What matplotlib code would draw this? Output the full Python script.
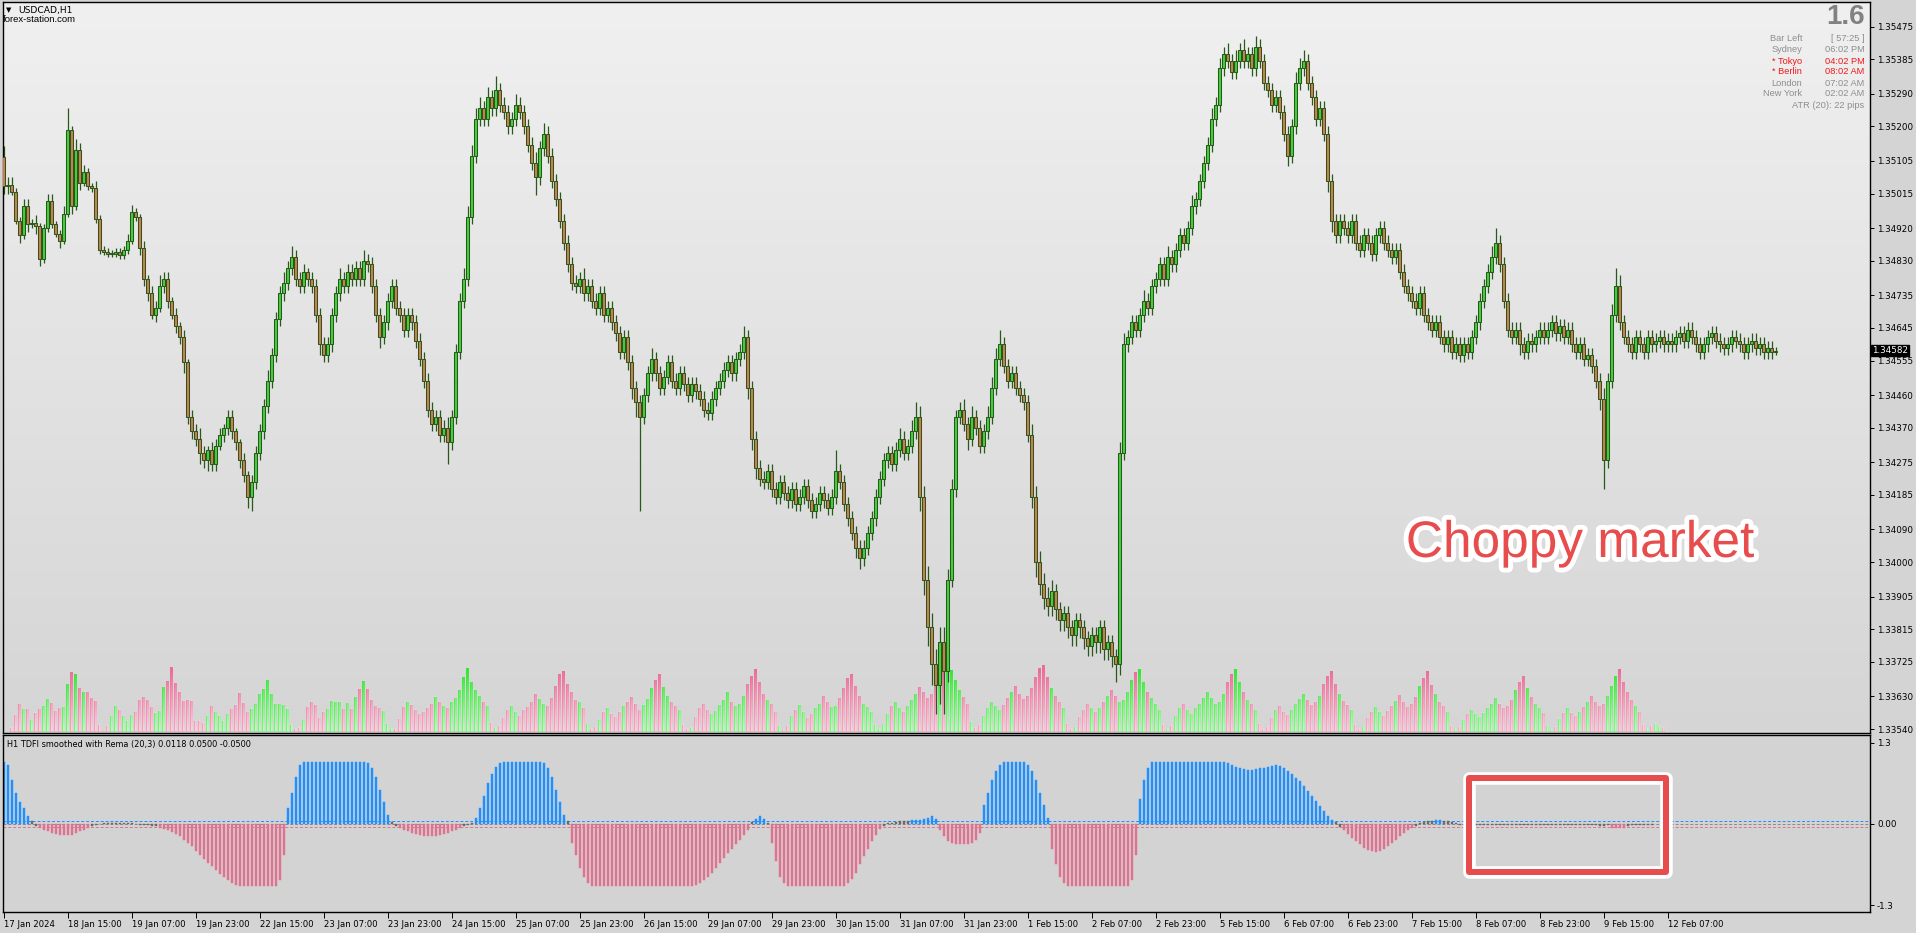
import numpy as np
import matplotlib
matplotlib.use("Agg")
import matplotlib.pyplot as plt
from matplotlib.path import Path
from matplotlib.patches import Rectangle
import matplotlib.patheffects as pe

# ---------------- data ----------------
BASE = 1.3300            # price = BASE + pips / 10000
first_open = 211.7
closes = [
    203.5, 204, 202, 194, 190, 198, 193, 193.5, 192.5, 183.5, 192, 199.5, 193, 190.5, 188.5, 196,
    219, 198, 213.5, 204.5, 207.5, 203.5, 203, 194.5, 186, 185.5, 185, 185, 185.5, 184.5, 186, 188.5,
    196.5, 195, 186.5, 178, 174, 168, 170, 176, 178, 172, 168, 165, 162, 155, 140, 136,
    134, 130, 128, 131, 127, 132, 135, 137, 140, 136, 133, 128, 124, 118, 122, 130,
    136, 143, 150, 157, 167, 174, 177, 181, 184, 178, 176, 180, 178, 176, 168, 160,
    157, 160, 168, 174, 178, 176, 180, 178, 181, 178, 183, 182, 176, 168, 162, 166,
    172, 176, 170, 168, 164, 168, 166, 161, 156, 150, 142, 138, 140, 135, 137, 133,
    140, 158, 172, 178, 195, 212, 222, 225, 222, 228, 225, 230, 226, 224, 220, 222,
    226, 224, 220, 215, 210, 206, 214, 218, 212, 205, 200, 194, 188, 182, 177, 176,
    178, 174, 176, 172, 170, 174, 168, 170, 166, 163, 158, 162, 155, 148, 144, 140,
    146, 152, 156, 152, 148, 151, 155, 150, 148, 152, 149, 146, 149, 147, 145, 142,
    141, 145, 148, 150, 153, 155, 152, 156, 158, 162, 148, 134, 126, 123, 122, 125,
    120, 118, 122, 119, 117, 120, 116, 118, 121, 117, 114, 116, 119, 117, 115, 118,
    125, 122, 116, 112, 108, 104, 101, 104, 108, 112, 118, 123, 128, 130, 127, 131,
    134, 130, 132, 136, 140, 118, 95, 82, 72, 66, 78, 70, 95, 120, 140, 142,
    138, 134, 140, 137, 132, 136, 140, 148, 156, 160, 154, 150, 152, 148, 146, 144,
    135, 118, 100, 94, 90, 88, 92, 87, 84, 86, 82, 80, 84, 82, 79, 77,
    80, 78, 82, 76, 78, 74, 72, 130, 160, 162, 166, 164, 168, 172, 170, 176,
    178, 182, 178, 184, 182, 186, 190, 188, 192, 198, 200, 205, 210, 215, 222, 226,
    236, 240, 238, 235, 238, 241, 238, 240, 236, 242, 238, 232, 230, 226, 228, 224,
    218, 212, 220, 232, 236, 238, 232, 228, 222, 225, 218, 205, 194, 190, 194, 192,
    190, 194, 188, 186, 190, 188, 185, 190, 192, 188, 186, 184, 186, 180, 176, 174,
    172, 170, 174, 168, 166, 164, 166, 162, 160, 162, 158, 160, 157, 160, 158, 162,
    166, 172, 176, 180, 184, 188, 182, 172, 164, 162, 164, 160, 158, 161, 160, 162,
    164, 162, 164, 166, 163, 165, 162, 164, 160, 158, 160, 156, 157, 154, 150, 145,
    128, 150, 168, 176, 166, 162, 160, 158, 162, 160, 158, 162, 160, 161, 162, 160,
    161, 160, 162, 163, 161, 164, 162, 160, 158, 160, 162, 163, 161, 160, 159, 160,
    162, 161, 160, 158, 160, 161, 159, 160, 158, 159, 158, 158.2,
]
upper_wick = [
    3, 2, 2, 1, 1, 2, 2, 1, 2, 1, 1, 2, 2, 1, 1, 2,
    6, 1, 3, 2, 2, 1, 1, 2, 1, 1, 1, 1, 1, 1, 1, 2,
    2, 1, 1, 2, 1, 2, 2, 3, 2, 2, 1, 2, 1, 2, 1, 2,
    2, 3, 2, 1, 2, 2, 2, 1, 2, 2, 1, 1, 2, 1, 2, 2,
    2, 2, 3, 2, 2, 2, 3, 2, 3, 2, 2, 2, 1, 2, 2, 2,
    2, 2, 2, 2, 3, 2, 2, 2, 2, 2, 3, 2, 2, 2, 2, 2,
    2, 2, 2, 2, 2, 2, 2, 2, 2, 2, 2, 2, 2, 2, 2, 3,
    2, 2, 2, 3, 3, 3, 3, 3, 2, 3, 2, 4, 2, 2, 2, 2,
    3, 2, 2, 2, 2, 3, 2, 3, 2, 2, 2, 2, 2, 2, 2, 2,
    2, 3, 2, 2, 2, 2, 2, 2, 2, 2, 2, 2, 2, 2, 2, 2,
    2, 2, 3, 2, 2, 2, 2, 2, 2, 2, 2, 2, 2, 2, 2, 2,
    2, 2, 2, 2, 2, 2, 2, 2, 2, 3, 2, 2, 2, 2, 2, 2,
    2, 2, 2, 2, 2, 2, 2, 2, 2, 2, 2, 2, 2, 2, 2, 2,
    6, 2, 2, 2, 2, 2, 2, 2, 2, 2, 2, 2, 2, 2, 2, 2,
    3, 2, 2, 3, 4, 3, 3, 4, 4, 4, 4, 4, 3, 3, 2, 2,
    3, 2, 3, 2, 2, 2, 3, 3, 3, 4, 2, 2, 2, 2, 2, 2,
    2, 3, 3, 3, 3, 3, 3, 2, 2, 2, 2, 2, 2, 2, 2, 2,
    2, 2, 2, 2, 2, 2, 2, 3, 3, 2, 2, 2, 2, 3, 2, 2,
    2, 2, 2, 3, 2, 2, 2, 2, 2, 3, 2, 2, 2, 2, 3, 2,
    3, 2, 3, 2, 3, 2, 3, 2, 2, 3, 2, 2, 2, 2, 2, 2,
    2, 2, 2, 3, 3, 3, 2, 2, 2, 2, 2, 2, 2, 2, 2, 2,
    2, 2, 2, 2, 2, 2, 2, 2, 2, 2, 2, 2, 2, 2, 2, 2,
    2, 2, 2, 2, 2, 2, 2, 2, 2, 2, 2, 2, 2, 2, 2, 2,
    2, 2, 2, 2, 3, 4, 2, 2, 2, 2, 2, 2, 2, 2, 2, 2,
    2, 2, 2, 2, 2, 2, 2, 2, 2, 2, 2, 2, 2, 2, 2, 2,
    3, 2, 3, 5, 3, 2, 2, 2, 2, 2, 2, 2, 2, 2, 2, 2,
    2, 2, 2, 2, 2, 2, 2, 2, 2, 2, 2, 2, 2, 2, 2, 2,
    2, 2, 2, 2, 2, 2, 2, 2, 2, 2, 2, 1,
]
lower_wick = [
    2, 2, 1, 1, 2, 1, 2, 1, 2, 2, 1, 1, 1, 1, 2, 1,
    1, 2, 1, 2, 1, 1, 1, 1, 1, 1, 1, 1, 1, 1, 1, 1,
    1, 1, 2, 2, 2, 1, 2, 1, 2, 2, 1, 2, 2, 3, 2, 2,
    2, 3, 2, 3, 2, 2, 1, 2, 2, 2, 2, 2, 2, 3, 4, 2,
    2, 2, 2, 2, 2, 2, 2, 2, 2, 2, 2, 2, 2, 2, 2, 3,
    2, 2, 2, 2, 2, 2, 2, 2, 2, 2, 2, 2, 2, 2, 3, 2,
    2, 2, 2, 2, 2, 2, 2, 2, 2, 2, 2, 2, 2, 2, 2, 6,
    2, 2, 2, 2, 2, 2, 2, 2, 2, 2, 2, 2, 2, 2, 2, 2,
    2, 2, 2, 2, 2, 5, 2, 2, 2, 2, 2, 2, 2, 2, 2, 2,
    2, 2, 2, 2, 2, 2, 2, 2, 2, 2, 2, 2, 2, 3, 4, 26,
    2, 2, 2, 2, 2, 2, 2, 2, 2, 2, 2, 2, 2, 2, 2, 2,
    2, 2, 2, 2, 2, 2, 2, 2, 2, 2, 3, 3, 3, 2, 2, 2,
    2, 2, 2, 2, 2, 2, 2, 2, 2, 2, 2, 2, 2, 2, 2, 2,
    2, 2, 2, 2, 2, 3, 3, 2, 2, 2, 2, 2, 2, 2, 2, 2,
    2, 2, 2, 2, 2, 4, 4, 5, 6, 8, 5, 12, 3, 2, 2, 2,
    2, 3, 2, 2, 2, 2, 2, 2, 2, 2, 2, 2, 2, 2, 2, 2,
    2, 3, 4, 3, 3, 3, 3, 3, 3, 3, 3, 3, 3, 3, 3, 3,
    3, 3, 3, 3, 3, 3, 5, 3, 2, 2, 2, 2, 2, 2, 2, 2,
    2, 2, 2, 2, 2, 2, 2, 2, 2, 2, 2, 2, 2, 2, 2, 2,
    2, 2, 2, 2, 2, 2, 2, 2, 2, 2, 2, 2, 2, 2, 2, 2,
    2, 3, 2, 2, 2, 2, 2, 2, 2, 2, 2, 3, 3, 2, 2, 2,
    2, 2, 2, 2, 2, 2, 2, 2, 2, 2, 2, 2, 2, 2, 2, 2,
    2, 2, 2, 2, 2, 2, 2, 2, 2, 2, 2, 2, 2, 2, 2, 2,
    2, 2, 2, 2, 2, 2, 2, 2, 2, 2, 2, 3, 2, 2, 2, 2,
    2, 2, 2, 2, 2, 2, 2, 2, 2, 2, 2, 2, 2, 2, 2, 3,
    8, 2, 2, 2, 2, 2, 2, 2, 2, 2, 2, 2, 2, 2, 2, 2,
    2, 2, 2, 2, 2, 2, 2, 2, 2, 2, 2, 2, 2, 2, 2, 2,
    2, 2, 2, 2, 2, 2, 2, 2, 2, 2, 2, 1,
]

# tick volume (starts at bar 2)
volume_start = 2
volumes = [
    4, 17, 28, 23, 23, 12, 19, 23, 26, 33, 29, 21, 24, 25, 48, 60, 58, 44, 40, 40,
    34, 31, 7, 1, 6, 16, 26, 22, 16, 11, 17, 20, 32, 35, 32, 25, 19, 21, 45, 51,
    65, 49, 40, 31, 32, 31, 11, 11, 9, 16, 26, 20, 16, 11, 18, 23, 27, 39, 29, 20,
    23, 28, 38, 43, 52, 38, 28, 28, 27, 23, 7, 3, 4, 12, 25, 30, 27, 14, 20, 23,
    31, 30, 30, 23, 29, 23, 35, 43, 51, 43, 32, 26, 24, 21, 8, 3, 3, 13,
    25, 30, 27, 22, 18, 20, 24, 28, 35, 30, 26, 24, 30, 34, 42, 55, 64, 50, 42, 36, 30, 26, 9, 4,
    6, 14, 22, 26, 20, 16, 22, 25, 30, 38, 33, 28, 26, 34, 46, 58, 61, 48, 40, 32, 30, 24, 8, 3,
    5, 12, 20, 24, 18, 15, 20, 26, 30, 35, 28, 22, 27, 33, 44, 52, 58, 45, 36, 30, 26, 22, 7, 3,
    4, 15, 24, 28, 22, 18, 21, 27, 32, 40, 30, 26, 28, 36, 48, 56, 63, 50, 38, 32, 28, 20, 6, 2,
    6, 16, 22, 27, 20, 14, 18, 24, 28, 36, 30, 25, 26, 34, 44, 54, 58, 46, 36, 28, 25, 20, 7, 3,
    8, 18, 26, 30, 24, 20, 26, 32, 38, 45, 40, 34, 38, 46, 58, 68, 70, 62, 52, 42, 35, 28, 10, 4,
    7, 16, 24, 30, 26, 22, 27, 34, 40, 46, 38, 33, 36, 44, 55, 64, 67, 55, 44, 36, 30, 24, 8, 3,
    5, 15, 22, 28, 24, 20, 24, 30, 36, 42, 36, 30, 32, 40, 52, 60, 63, 50, 40, 34, 28, 22, 7, 3,
    6, 16, 24, 28, 22, 18, 24, 28, 34, 40, 34, 28, 30, 38, 50, 58, 63, 50, 40, 32, 28, 22, 8, 3,
    5, 14, 22, 26, 20, 17, 22, 28, 33, 38, 32, 27, 30, 36, 48, 56, 61, 48, 38, 31, 27, 22, 7, 3,
    5, 14, 20, 25, 20, 16, 21, 26, 31, 37, 30, 25, 28, 35, 46, 54, 61, 47, 38, 30, 26, 20, 6, 3,
    5, 12, 18, 22, 18, 15, 19, 24, 28, 34, 28, 24, 26, 32, 42, 50, 56, 44, 35, 28, 24, 19, 6, 2,
    5, 13, 19, 24, 19, 16, 20, 25, 30, 36, 30, 26, 28, 36, 46, 56, 63, 50, 40, 32, 26, 20, 7, 3,
    6, 8, 5, 4,
]

# TDFI smoothed with Rema (20,3)
tdfi = [
    1.0, 0.95, 0.7, 0.5, 0.35, 0.25, 0.12, 0.04,
    -0.03, -0.06, -0.09, -0.12, -0.14, -0.16, -0.17, -0.18, -0.18, -0.17, -0.15, -0.12, -0.09, -0.06, -0.03,
    -0.01, 0.0, 0.01, 0.01, 0.02, 0.02, 0.02, 0.02, 0.02, 0.01, 0.0, -0.01, -0.01, -0.02, -0.03, -0.04,
    -0.06, -0.08, -0.1, -0.13, -0.16, -0.2, -0.25, -0.3, -0.36, -0.43, -0.5, -0.56, -0.62, -0.68, -0.74,
    -0.8, -0.85, -0.9, -0.95, -0.98, -1, -1, -1, -1, -1, -1, -1, -1, -1, -1, -0.9, -0.5,
    0.25, 0.5, 0.75, 0.95, 1, 1, 1, 1, 1, 1, 1, 1, 1, 1, 1, 1, 1, 1, 1, 1,
    0.98, 0.9, 0.75, 0.55, 0.35, 0.15, 0.03,
    -0.03, -0.06, -0.09, -0.12, -0.14, -0.16, -0.18, -0.19, -0.2, -0.2, -0.19, -0.18, -0.16, -0.14,
    -0.12, -0.09, -0.06, -0.04, -0.02,
    0.02, 0.1, 0.25, 0.45, 0.65, 0.8, 0.92, 0.98, 1, 1, 1, 1, 1, 1, 1, 1, 1, 1,
    0.97, 0.9, 0.75, 0.55, 0.35, 0.15, 0.05,
    -0.3, -0.5, -0.7, -0.85, -0.95, -1, -1, -1, -1, -1, -1, -1, -1, -1, -1, -1, -1, -1,
    -1, -1, -1, -1, -1, -1, -1, -1, -1, -1, -1, -1, -1,
    -0.98, -0.95, -0.9, -0.85, -0.78, -0.7, -0.62, -0.55, -0.47, -0.4, -0.32, -0.25, -0.17, -0.1,
    0.03, 0.08, 0.12, 0.08, 0.02,
    -0.3, -0.6, -0.85, -0.95, -1, -1, -1, -1, -1, -1, -1, -1, -1, -1, -1, -1, -1, -1, -1,
    -0.95, -0.88, -0.78, -0.65, -0.52, -0.4, -0.28, -0.17, -0.08, -0.03,
    0.01, 0.02, 0.03, 0.04, 0.05, 0.05, 0.06, 0.06, 0.07, 0.08, 0.1, 0.12, 0.08,
    -0.1, -0.2, -0.27, -0.3, -0.32, -0.33, -0.33, -0.32, -0.3, -0.25, -0.15,
    0.3, 0.5, 0.7, 0.85, 0.95, 1, 1, 1, 1, 1, 1, 0.95, 0.85, 0.7, 0.5, 0.3, 0.1,
    -0.4, -0.65, -0.85, -0.95, -1, -1, -1, -1, -1, -1, -1, -1, -1, -1, -1, -1, -1, -1, -1, -1,
    -0.9, -0.5,
    0.4, 0.7, 0.9, 1, 1, 1, 1, 1, 1, 1, 1, 1, 1, 1, 1, 1, 1, 1, 1, 1, 1, 1,
    0.98, 0.95, 0.92, 0.9, 0.88, 0.87, 0.87, 0.88, 0.89, 0.9, 0.92, 0.93, 0.94, 0.93,
    0.9, 0.85, 0.8, 0.74, 0.68, 0.6, 0.52, 0.44, 0.36, 0.28, 0.2, 0.13, 0.07, 0.03,
    -0.05, -0.1, -0.16, -0.22, -0.28, -0.33, -0.38, -0.42, -0.44, -0.45, -0.43, -0.4, -0.36, -0.31,
    -0.26, -0.2, -0.15, -0.1, -0.06, -0.03,
    0.02, 0.03, 0.04, 0.05, 0.06, 0.06, 0.05, 0.04, 0.03, 0.02,
    -0.01, -0.01, -0.02, -0.01, -0.01, -0.02, -0.02, -0.01, -0.01, -0.01, -0.02, -0.02, -0.02,
    -0.01, -0.01, -0.02, -0.01, -0.01, -0.01, -0.02, -0.02, -0.01, -0.01, -0.01, -0.02, -0.02,
    -0.02, -0.01, -0.01, -0.02, -0.02, -0.01, -0.01, -0.02, -0.02, -0.03, -0.03, -0.02,
    -0.06, -0.07, -0.07, -0.06, -0.03, -0.02, -0.02, -0.01, -0.01, -0.01, -0.01,
]

price_ticks = [1.35475, 1.35385, 1.35290, 1.35200, 1.35105, 1.35015, 1.34920, 1.34830,
               1.34735, 1.34645, 1.34555, 1.34460, 1.34370, 1.34275, 1.34185, 1.34090,
               1.34000, 1.33905, 1.33815, 1.33725, 1.33630, 1.33540]
date_labels = ["17 Jan 2024", "18 Jan 15:00", "19 Jan 07:00", "19 Jan 23:00", "22 Jan 15:00",
               "23 Jan 07:00", "23 Jan 23:00", "24 Jan 15:00", "25 Jan 07:00", "25 Jan 23:00",
               "26 Jan 15:00", "29 Jan 07:00", "29 Jan 23:00", "30 Jan 15:00", "31 Jan 07:00",
               "31 Jan 23:00", "1 Feb 15:00", "2 Feb 07:00", "2 Feb 23:00", "5 Feb 15:00",
               "6 Feb 07:00", "6 Feb 23:00", "7 Feb 15:00", "8 Feb 07:00", "8 Feb 23:00",
               "9 Feb 15:00", "12 Feb 07:00"]
bars_per_label = 16

session_names = ["Bar Left", "Sydney", "* Tokyo", "* Berlin", "London", "New York"]
session_values = ["[ 57:25 ]", "06:02 PM", "04:02 PM", "08:02 AM", "07:02 AM", "02:02 AM"]
session_active = [False, False, True, True, False, False]
atr_text = "ATR (20): 22 pips"
spread_text = "1.6"

# ---------------- style ----------------
WICK = "#28581a"
BULL = "#3fd23c"
BEAR = "#d57a52"
VOL_UP = "#35e635"
VOL_DN = "#ea6e98"
T_UP = "#1e90ff"
T_DN = "#e0718f"
T_FLAT = "#6a6a6a"
GRAY_TXT = "#8e8e8e"
RED_TXT = "#f01818"

W, H = 1916, 933
fig = plt.figure(figsize=(W / 100, H / 100), dpi=100)
fig.patch.set_facecolor("#d4d4d4")


def fx(px):
    return px / W


def fy(py):
    return 1 - py / H


L, R = 2.5, 1870
main_rect = [fx(L), fy(733), (R - L) / W, (733 - 2) / H]
low_rect = [fx(L), fy(912), (R - L) / W, (912 - 735) / H]
XMIN, XMAX = -0.3, 466.6
YTOP, YBOT = 254.3, 52.9

n = len(closes)
c = np.array(closes, float)
o = np.concatenate([[first_open], c[:-1]])
uw = np.array(upper_wick[:n], float)
lw = np.array(lower_wick[:n], float)
top = np.maximum(o, c)
bot = np.minimum(o, c)
hi = top + uw
lo = bot - lw
x = np.arange(n)


def P(v):
    return BASE + np.asarray(v, float) / 10000.0


# ---- background + volume axes ----
axb = fig.add_axes(main_rect)
VYMIN, VYMAX = -1.3, 729.7
g = np.linspace(0, 1, 256)[:, None, None]
ctop = np.array([0xf0, 0xf0, 0xf0]) / 255.0
cbot = np.array([0xd5, 0xd5, 0xd5]) / 255.0
bg = ctop * (1 - g) + cbot * g
axb.imshow(bg, extent=[XMIN, XMAX, VYMIN, VYMAX], aspect="auto", origin="upper",
           zorder=0, interpolation="bilinear")

v = np.array(volumes, float)
vx = np.arange(len(v)) + volume_start
vup = c[vx] >= o[vx]
axb.bar(vx, v, width=0.62, color=[VOL_UP if u else VOL_DN for u in vup], linewidth=0, zorder=2)
verts, codes = [], []
for xi, h in zip(vx, v):
    x0, x1 = xi - 0.31, xi + 0.31
    verts += [(x0, 0), (x1, 0), (x1, h), (x0, h), (x0, 0)]
    codes += [Path.MOVETO, Path.LINETO, Path.LINETO, Path.LINETO, Path.CLOSEPOLY]
clip = Path(verts, codes)
ov = np.ones((128, 1, 4))
ov[:, 0, 3] = np.linspace(0.0, 0.72, 128)
im = axb.imshow(ov, extent=[XMIN, XMAX, 0, 62], aspect="auto", origin="upper", zorder=3,
                interpolation="bilinear")
im.set_clip_path(clip, transform=axb.transData)
axb.set_xlim(XMIN, XMAX)
axb.set_ylim(VYMIN, VYMAX)
axb.axis("off")

# ---- candles ----
ax = fig.add_axes(main_rect)
ax.patch.set_visible(False)
ax.vlines(x, P(lo), P(hi), color=WICK, linewidth=0.9, zorder=2)
body_h = np.maximum(P(top) - P(bot), 0.000006)
ax.bar(x, body_h, bottom=P(bot), width=0.66,
       color=[BULL if cc >= oo else BEAR for cc, oo in zip(c, o)],
       edgecolor=WICK, linewidth=0.75, zorder=3)
ax.set_xlim(XMIN, XMAX)
ax.set_ylim(P(YBOT), P(YTOP))
ax.yaxis.tick_right()
ax.set_yticks(price_ticks)
ax.set_yticklabels([f"{p:.5f}" for p in price_ticks], family="DejaVu Sans")
ax.tick_params(axis="y", direction="out", length=3, width=0.7, pad=2, labelsize=6.3, colors="black")
ax.set_xticks([])
for s in ax.spines.values():
    s.set_color("black")
    s.set_linewidth(1.0)

last = P(c[-1])
ax.text(XMAX + 0.45, last, f"{last:.5f}", ha="left", va="center", fontsize=6.3,
        color="white", family="DejaVu Sans", clip_on=False, zorder=10,
        bbox=dict(boxstyle="square,pad=0.12", fc="black", ec="black"))

# ---- TDFI panel ----
ax2 = fig.add_axes(low_rect, facecolor="#d3d3d3")
t = np.array(tdfi, float)
tx = np.arange(len(t))
tcol = [T_UP if val > 0.05 else (T_DN if val < -0.05 else T_FLAT) for val in t]
ax2.bar(tx, t, width=0.5, color=tcol, edgecolor=tcol, linewidth=0.3, zorder=2)
ax2.axhline(0.05, color=T_UP, lw=0.7, ls=(0, (3, 2)), zorder=1)
ax2.axhline(-0.05, color=T_DN, lw=0.7, ls=(0, (3, 2)), zorder=1)
ax2.axhline(0.0, color="#8a8a8a", lw=0.7, ls=(0, (3, 2)), zorder=1)
ax2.set_xlim(XMIN, XMAX)
ax2.set_ylim(-1.412, 1.425)
ax2.yaxis.tick_right()
ax2.set_yticks([1.3, 0.0, -1.3])
ax2.set_yticklabels(["1.3", "0.00", "-1.3"], family="DejaVu Sans")
ax2.tick_params(axis="y", direction="out", length=3, width=0.7, pad=2, labelsize=6.3)
ax2.set_xticks([k * bars_per_label for k in range(len(date_labels))])
ax2.set_xticklabels(date_labels, family="DejaVu Sans")
ax2.tick_params(axis="x", direction="out", length=4, width=0.7, pad=2, labelsize=6.1)
for lab in ax2.get_xticklabels():
    lab.set_horizontalalignment("left")
for s in ax2.spines.values():
    s.set_color("black")
    s.set_linewidth(1.0)

# ---- texts ----
fig.text(fx(6), fy(10.5), "\u25BC", fontsize=5, va="center", ha="left", color="black",
         family="DejaVu Sans")
fig.text(fx(18), fy(10.5), "USDCAD,H1", fontsize=6.6, va="center", ha="left", color="black",
         family="DejaVu Sans")
fig.text(fx(3), fy(19.5), "forex-station.com", fontsize=6.8, va="center", ha="left",
         color="black", family="Liberation Sans")
fig.text(fx(7), fy(744), "H1 TDFI smoothed with Rema (20,3) 0.0118 0.0500 -0.0500",
         fontsize=5.9, va="center", ha="left", color="black", family="DejaVu Sans")

fig.text(fx(1865), fy(17.5), spread_text, fontsize=20, weight="bold", color="#828282",
         ha="right", va="center", family="Liberation Sans")
row_y = [38.5, 49.7, 61, 72, 83, 93.5]
for name, val, act, yy in zip(session_names, session_values, session_active, row_y):
    col = RED_TXT if act else GRAY_TXT
    fig.text(fx(1802), fy(yy), name, fontsize=6.7, color=col, ha="right", va="center",
             family="Liberation Sans")
    fig.text(fx(1864.5), fy(yy), val, fontsize=6.7, color=col, ha="right", va="center",
             family="Liberation Sans")
fig.text(fx(1864.5), fy(105), atr_text, fontsize=6.7, color=GRAY_TXT, ha="right", va="center",
         family="Liberation Sans")

# ---- annotation ----
fig.text(fx(1580), fy(557), "Choppy market", fontsize=37, color="#e84d4d", ha="center",
         va="baseline", family="Liberation Sans",
         path_effects=[pe.withStroke(linewidth=7, foreground="white")], zorder=20)
bx0, bx1, by0, by1 = 1469, 1666, 777.5, 871.5
for lwid, col in ((12.5, "white"), (6.0, "#e84d4d")):
    rect = Rectangle((fx(bx0), fy(by1)), fx(bx1) - fx(bx0), (by1 - by0) / H,
                     transform=fig.transFigure, fill=False, edgecolor=col,
                     linewidth=lwid * 0.72, joinstyle="round", zorder=20)
    fig.add_artist(rect)

fig.savefig("out.png", dpi=100, facecolor=fig.get_facecolor())
